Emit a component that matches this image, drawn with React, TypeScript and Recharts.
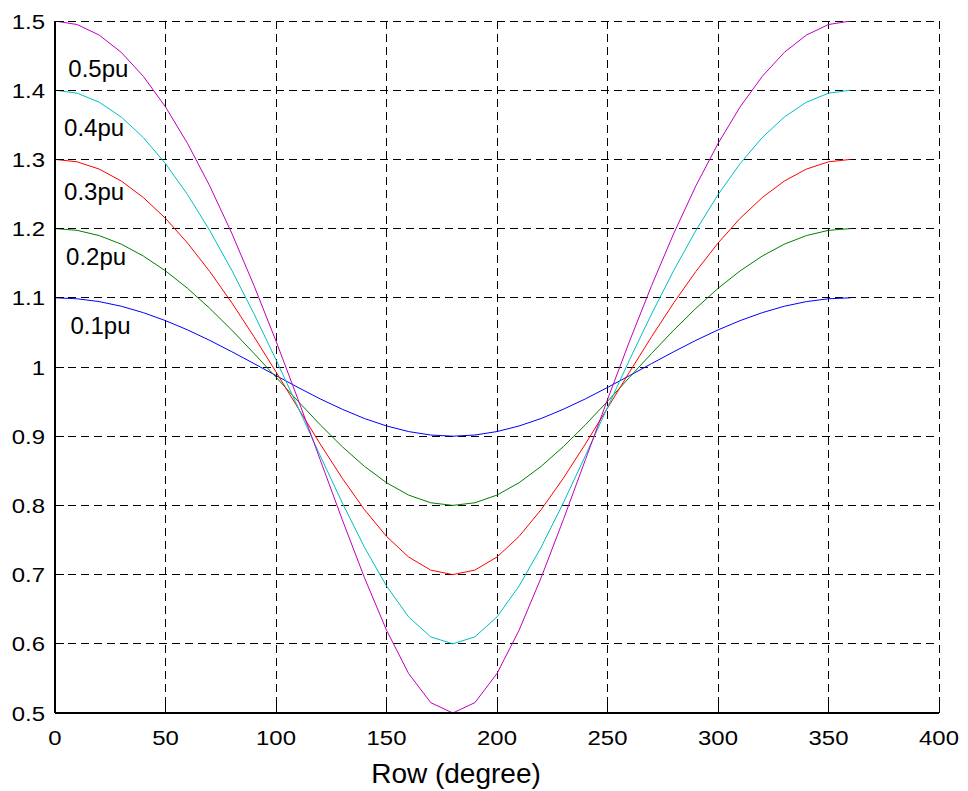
import React from "react";
import {
  LineChart,
  Line,
  XAxis,
  YAxis,
  CartesianGrid,
  ReferenceDot,
} from "recharts";

// angle (degree)
const degrees = [
  0, 10, 20, 30, 40, 50, 60, 70, 80, 90, 100, 110, 120, 130, 140, 150, 160, 170, 180,
  190, 200, 210, 220, 230, 240, 250, 260, 270, 280, 290, 300, 310, 320, 330, 340, 350, 360,
];

const pu01 = [
  1.1, 1.0986, 1.0945, 1.0878, 1.0785, 1.067, 1.0536, 1.0385, 1.0221, 1.005, 0.9876, 0.9704,
  0.9539, 0.9389, 0.9256, 0.9148, 0.9067, 0.9017, 0.9, 0.9017, 0.9067, 0.9148, 0.9256, 0.9389,
  0.9539, 0.9704, 0.9876, 1.005, 1.0221, 1.0385, 1.0536, 1.067, 1.0785, 1.0878, 1.0945, 1.0986, 1.1,
];
const pu02 = [
  1.2, 1.1975, 1.1899, 1.1775, 1.1603, 1.1389, 1.1136, 1.0848, 1.0533, 1.0198, 0.9852, 0.9504,
  0.9165, 0.8848, 0.8565, 0.8328, 0.8149, 0.8038, 0.8, 0.8038, 0.8149, 0.8328, 0.8565, 0.8848,
  0.9165, 0.9504, 0.9852, 1.0198, 1.0533, 1.0848, 1.1136, 1.1389, 1.1603, 1.1775, 1.1899, 1.1975, 1.2,
];
const pu03 = [
  1.3, 1.2965, 1.286, 1.2687, 1.2448, 1.2148, 1.179, 1.1381, 1.0928, 1.044, 0.9929, 0.9406,
  0.8888, 0.8392, 0.794, 0.7552, 0.7254, 0.7065, 0.7, 0.7065, 0.7254, 0.7552, 0.794, 0.8392,
  0.8888, 0.9406, 0.9929, 1.044, 1.0928, 1.1381, 1.179, 1.2148, 1.2448, 1.2687, 1.286, 1.2965, 1.3,
];
const pu04 = [
  1.4, 1.3957, 1.3827, 1.3612, 1.3315, 1.2939, 1.249, 1.1973, 1.1397, 1.077, 1.0105, 0.9415,
  0.8718, 0.8036, 0.7397, 0.6835, 0.6389, 0.61, 0.6, 0.61, 0.6389, 0.6835, 0.7397, 0.8036,
  0.8718, 0.9415, 1.0105, 1.077, 1.1397, 1.1973, 1.249, 1.2939, 1.3315, 1.3612, 1.3827, 1.3957, 1.4,
];
const pu05 = [
  1.5, 1.4949, 1.4797, 1.4546, 1.4199, 1.3758, 1.3229, 1.2618, 1.1932, 1.118, 1.0375, 0.9529,
  0.866, 0.7792, 0.6957, 0.6197, 0.5571, 0.515, 0.5, 0.515, 0.5571, 0.6197, 0.6957, 0.7792,
  0.866, 0.9529, 1.0375, 1.118, 1.1932, 1.2618, 1.3229, 1.3758, 1.4199, 1.4546, 1.4797, 1.4949, 1.5,
];

const xTicks = [0, 50, 100, 150, 200, 250, 300, 350, 400];
const yTicks = [0.5, 0.6, 0.7, 0.8, 0.9, 1.0, 1.1, 1.2, 1.3, 1.4, 1.5];

const annotationText = ["0.5pu", "0.4pu", "0.3pu", "0.2pu", "0.1pu"];
const annotationX = [19.6, 17.7, 17.7, 18.6, 20.6];
const annotationY = [1.4315, 1.3468, 1.2538, 1.1594, 1.06];

const seriesDefs = [
  { key: "pu01", values: pu01, color: "#0000ff" },
  { key: "pu02", values: pu02, color: "#008000" },
  { key: "pu03", values: pu03, color: "#ff0000" },
  { key: "pu04", values: pu04, color: "#00bfbf" },
  { key: "pu05", values: pu05, color: "#bf00bf" },
];

const data = degrees.map((d, i) => {
  const row: Record<string, number> = { deg: d };
  seriesDefs.forEach((s) => {
    row[s.key] = s.values[i];
  });
  return row;
});

const FONT = "'Liberation Sans', Arial, Helvetica, sans-serif";
const TICK_LEN = 9;

const fmtY = (v: number) => String(Number(v.toFixed(1)));

const LeftTick = (props: any) => {
  const { x, y, payload } = props;
  return (
    <g transform={`translate(${x},${y})`}>
      <line x1={10} x2={10 + TICK_LEN} y1={0} y2={0} stroke="#000" strokeWidth={1} shapeRendering="crispEdges" />
      <text
        x={0}
        y={0}
        dy={7.5}
        textAnchor="end"
        transform="scale(1.14,1)"
        fontSize={21}
        fontFamily={FONT}
        fill="#000"
      >
        {fmtY(payload.value)}
      </text>
    </g>
  );
};

const BottomTick = (props: any) => {
  const { x, y, payload } = props;
  return (
    <g transform={`translate(${x},${y})`}>
      <line x1={0} x2={0} y1={0} y2={-TICK_LEN} stroke="#000" strokeWidth={1} shapeRendering="crispEdges" />
      <text
        x={0}
        y={0}
        dy={32}
        textAnchor="middle"
        transform="scale(1.14,1)"
        fontSize={21}
        fontFamily={FONT}
        fill="#000"
      >
        {String(payload.value)}
      </text>
    </g>
  );
};

const TopTick = (props: any) => {
  const { x, y } = props;
  return (
    <g transform={`translate(${x},${y})`}>
      <line x1={0} x2={0} y1={0} y2={TICK_LEN} stroke="#000" strokeWidth={1} shapeRendering="crispEdges" />
    </g>
  );
};

const RightTick = (props: any) => {
  const { x, y } = props;
  return (
    <g transform={`translate(${x},${y})`}>
      <line x1={0} x2={-TICK_LEN} y1={0} y2={0} stroke="#000" strokeWidth={1} shapeRendering="crispEdges" />
    </g>
  );
};

const XLabel = (props: any) => {
  const vb = props.viewBox || { x: 47, y: 705, width: 884, height: 78 };
  return (
    <text
      x={vb.x + vb.width / 2 - 41}
      y={vb.y + 70}
      textAnchor="middle"
      fontSize={28}
      fontFamily={FONT}
      fill="#000"
    >
      Row (degree)
    </text>
  );
};

const axisLineStyle = { stroke: "#000", strokeWidth: 1.5, shapeRendering: "crispEdges" };

export default function App() {
  return (
    <div style={{ padding: "8px 0 0 8px", background: "#fff" }}>
      <style>{"body{margin:0;background:#fff} .recharts-cartesian-grid line{shape-rendering:crispEdges}"}</style>
      <LineChart
        width={952}
        height={783}
        data={data}
        margin={{ top: 13, right: 21, bottom: 0, left: 0 }}
      >
        <CartesianGrid stroke="#000" strokeDasharray="8 5" strokeWidth={1} />
        <XAxis
          dataKey="deg"
          type="number"
          domain={[0, 400]}
          ticks={xTicks}
          height={78}
          tickSize={0}
          tickMargin={0}
          tickLine={false}
          axisLine={axisLineStyle}
          tick={<BottomTick />}
          interval={0}
          label={(p: any) => <XLabel {...p} />}
        />
        <XAxis
          xAxisId="top"
          orientation="top"
          dataKey="deg"
          type="number"
          domain={[0, 400]}
          ticks={xTicks}
          height={0}
          tickSize={0}
          tickMargin={0}
          tickLine={false}
          axisLine={axisLineStyle}
          tick={<TopTick />}
          interval={0}
        />
        <YAxis
          type="number"
          domain={[0.5, 1.5]}
          ticks={yTicks}
          width={47}
          tickSize={0}
          tickMargin={10}
          tickLine={false}
          axisLine={axisLineStyle}
          tick={<LeftTick />}
          interval={0}
          allowDataOverflow
        />
        <YAxis
          yAxisId="right"
          orientation="right"
          type="number"
          domain={[0.5, 1.5]}
          ticks={yTicks}
          width={0}
          tickSize={0}
          tickMargin={0}
          tickLine={false}
          axisLine={axisLineStyle}
          tick={<RightTick />}
          interval={0}
        />
        {seriesDefs.map((s) => (
          <Line
            key={s.key}
            dataKey={s.key}
            type="linear"
            stroke={s.color}
            strokeWidth={1}
            dot={false}
            activeDot={false}
            isAnimationActive={false}
          />
        ))}
        {annotationText.map((t, i) => (
          <ReferenceDot
            key={t}
            x={annotationX[i]}
            y={annotationY[i]}
            r={0}
            ifOverflow="visible"
            shape={(p: any) => (
              <text
                x={p.cx}
                y={p.cy}
                dy={8.6}
                textAnchor="middle"
                fontSize={24}
                fontFamily={FONT}
                fill="#000"
              >
                {t}
              </text>
            )}
          />
        ))}
      </LineChart>
    </div>
  );
}
